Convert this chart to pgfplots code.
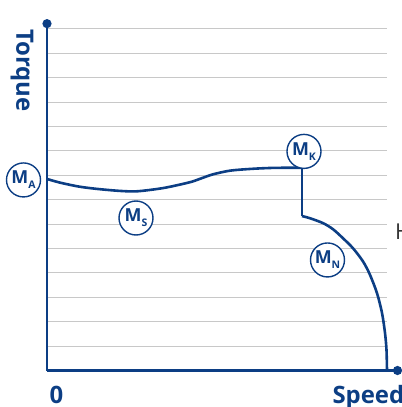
\documentclass[border=0pt]{standalone}
\usepackage{pgfplots}
\pgfplotsset{compat=1.18}
\usepackage{fontspec}
\setmainfont{Open Sans}
\usetikzlibrary{arrows.meta}
\definecolor{dblue}{RGB}{12,62,132}
\definecolor{gridgray}{RGB}{200,200,200}
\begin{document}
\begin{tikzpicture}
\begin{axis}[
  anchor=origin, at={(0,0)},
  x=1bp, y=24.4bp,
  xmin=0, xmax=340, ymin=0, ymax=14,
  axis line style={draw=none},
  xtick=\empty,
  ytick={1,2,...,14}, yticklabels={},
  major tick length=0pt,
  ymajorgrids, grid style={gridgray, line width=0.9bp},
  clip=false,
]
\addplot[dblue, line width=2.6bp, smooth, tension=0.5] coordinates {
  (0,7.85) (13,7.70) (33,7.53) (53,7.43) (73,7.36) (88,7.34) (103,7.40) (118,7.49) (133,7.62) (145,7.74) (156,7.90) (166,8.04) (183,8.19) (203,8.26) (223,8.30) (243,8.31) (255,8.31)
};
\addplot[dblue, line width=2.6bp] coordinates {(255,8.31) (255,6.33)};
\addplot[dblue, line width=2.6bp, smooth, tension=0.5] coordinates {
  (255,6.33) (263,6.24) (276,6.04) (286,5.79) (296,5.42) (306,5.01) (316,4.47) (323,3.92) (330,3.17) (335,2.36) (338,1.54) (339.5,0.84) (340,0)
};
\draw[dblue, line width=2.7bp, -{Circle[length=9bp]}] (axis cs:0,0) -- (axis cs:0,14.4);
\draw[dblue, line width=2.7bp, -{Circle[length=9bp]}] (axis cs:0,0) -- (axis cs:355,0);
\tikzset{mlab/.style={circle, draw=dblue, fill=white, line width=1.4bp, minimum size=34bp, inner sep=0pt, text=dblue, font=\bfseries\fontsize{18}{18}\selectfont}}
\node[mlab] at (axis cs:-23.5,7.81) {M\raisebox{-0.5ex}{\fontsize{10.5}{10.5}\selectfont A}};
\node[mlab] at (axis cs:89,6.25) {M\raisebox{-0.5ex}{\fontsize{10.5}{10.5}\selectfont S}};
\node[mlab] at (axis cs:257,8.98) {M\raisebox{-0.5ex}{\fontsize{10.5}{10.5}\selectfont K}};
\node[mlab] at (axis cs:280.5,4.53) {M\raisebox{-0.5ex}{\fontsize{10.5}{10.5}\selectfont N}};
\node[text=dblue, font=\bfseries\fontsize{24}{24}\selectfont, rotate=-90] at (axis cs:-25,12.3) {Torque};
\node[text=dblue, font=\bfseries\fontsize{24}{24}\selectfont, anchor=base west] at (axis cs:-1,-1.37) {0};
\node[text=dblue, font=\bfseries\fontsize{24}{24}\selectfont, anchor=base west] at (axis cs:282,-1.37) {Speed};
\node[text=black!80, inner sep=0pt, font=\fontsize{22}{22}\selectfont, anchor=base west] at (axis cs:348,5.35) {H};
\end{axis}
\pgfresetboundingbox
\path[use as bounding box] (-47bp,-36.5bp) rectangle (355bp,370.5bp);
\end{tikzpicture}
\end{document}
